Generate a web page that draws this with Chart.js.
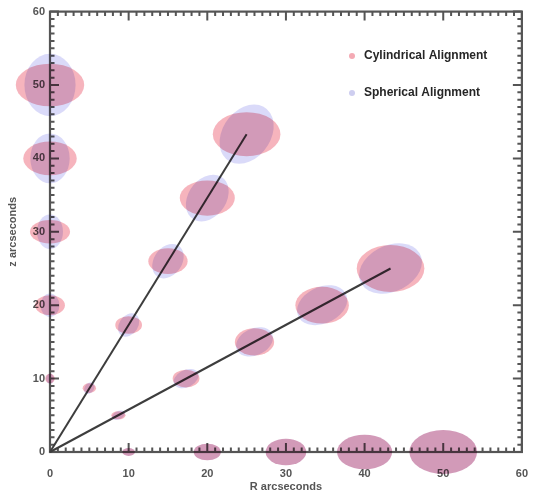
<!DOCTYPE html>
<html>
<head>
<meta charset="utf-8">
<script src="https://cdn.jsdelivr.net/npm/chart.js@4/dist/chart.umd.min.js"></script>
<style>
  html, body { margin: 0; padding: 0; background: #ffffff; }
  #wrap { width: 543px; height: 500px; position: relative; }
</style>
</head>
<body>
<div id="wrap"><canvas id="c"></canvas></div>
<script>
// Source positions (arcseconds): five on the z axis, five on the R axis,
// five along the 60 degree ray and five along the 30 degree ray.
const posR = [0, 0, 0, 0, 0,   10, 20, 30, 40, 50,   5, 10, 15, 20, 25,    8.7, 17.3, 26, 34.6, 43.3];
const posZ = [10, 20, 30, 40, 50,   0, 0, 0, 0, 0,   8.7, 17.3, 26, 34.6, 43.3,   5, 10, 15, 20, 25];

// Cylindrical alignment: semi-axes along R and along z (arcseconds)
const cylSemiR = [0.6, 1.9, 2.55, 3.4, 4.35,   0.8, 1.72, 2.58, 3.5, 4.3,   0.85, 1.7, 2.5, 3.5, 4.3,   0.9, 1.7, 2.5, 3.4, 4.3];
const cylSemiZ = [0.65, 1.35, 1.6, 2.3, 2.9,   0.54, 1.14, 1.82, 2.36, 3.0,  0.65, 1.2, 1.75, 2.4, 3.0,   0.55, 1.2, 1.85, 2.5, 3.2];

// Spherical alignment: semi-axis along the radial direction, across it, and the radial angle (degrees)
const sphRadial = [0.7, 1.6, 2.35, 3.4, 4.25,   0.8, 1.72, 2.58, 3.5, 4.3,   0.85, 1.7, 2.5, 3.4, 4.3,   0.9, 1.7, 2.5, 3.4, 4.25];
const sphAcross = [0.5, 1.2, 1.65, 2.5, 3.25,   0.54, 1.14, 1.82, 2.36, 3.0,  0.6, 1.2, 1.8, 2.45, 3.1,   0.55, 1.15, 1.8, 2.45, 3.1];
const sphAngle  = [90, 90, 90, 90, 90,   0, 0, 0, 0, 0,   60, 60, 60, 60, 60,   30, 30, 30, 30, 30];

// Guide rays from the origin to the outermost sources
const ray60R = [0, 25],   ray60Z = [0, 43.3];
const ray30R = [0, 43.3], ray30Z = [0, 25];

// Axis range and tick spacing
const axisMin = 0, axisMax = 60, majorStep = 10, minorStep = 1;

const toPoints = (xs, ys) => xs.map((x, i) => ({ x: x, y: ys[i] }));

const AXIS_GREY = '#555555';
const PINK = 'rgb(246,180,189)';
const LAVENDER = 'rgb(218,218,249)';
const FONT = "'Liberation Sans', Arial, sans-serif";

// White page behind the plot so the multiply blend works on a solid backdrop
const backgroundPlugin = {
  id: 'paper',
  beforeDraw(chart) {
    const ctx = chart.ctx;
    ctx.save();
    ctx.fillStyle = '#ffffff';
    ctx.fillRect(0, 0, chart.width, chart.height);
    ctx.restore();
  }
};

// Box frame with inward major and minor ticks on all four sides
const framePlugin = {
  id: 'frame',
  beforeDatasetsDraw(chart) {
    const ctx = chart.ctx, xs = chart.scales.x, ys = chart.scales.y;
    const L = xs.getPixelForValue(axisMin), R = xs.getPixelForValue(axisMax);
    const B = ys.getPixelForValue(axisMin), T = ys.getPixelForValue(axisMax);
    ctx.save();
    ctx.strokeStyle = AXIS_GREY;
    ctx.lineWidth = 2;
    ctx.beginPath();
    for (let v = axisMin; v <= axisMax; v += minorStep) {
      const len = (v % majorStep === 0) ? 9 : 4.5;
      const px = xs.getPixelForValue(v), py = ys.getPixelForValue(v);
      ctx.moveTo(px, B); ctx.lineTo(px, B - len);
      ctx.moveTo(px, T); ctx.lineTo(px, T + len);
      ctx.moveTo(L, py); ctx.lineTo(L + len, py);
      ctx.moveTo(R, py); ctx.lineTo(R - len, py);
    }
    ctx.stroke();
    ctx.lineWidth = 2.2;
    ctx.strokeRect(L, T, R - L, B - T);
    ctx.restore();
  }
};

// Each source is drawn as an ellipse sized in arcseconds through the scales
const ellipsePlugin = {
  id: 'ellipses',
  afterDatasetsDraw(chart) {
    const ctx = chart.ctx, xs = chart.scales.x, ys = chart.scales.y;
    const sx = xs.getPixelForValue(1) - xs.getPixelForValue(0);
    const sy = ys.getPixelForValue(0) - ys.getPixelForValue(1);
    chart.data.datasets.forEach((ds, di) => {
      if (!ds.shape) return;
      const meta = chart.getDatasetMeta(di);
      ctx.save();
      ctx.globalCompositeOperation = 'multiply';
      ctx.fillStyle = ds.backgroundColor;
      meta.data.forEach((el, i) => {
        const s = ds.shape[i];
        ctx.save();
        ctx.translate(el.x, el.y);
        ctx.scale(sx, -sy);
        ctx.rotate(s.angle * Math.PI / 180);
        ctx.beginPath();
        ctx.ellipse(0, 0, s.a, s.b, 0, 0, Math.PI * 2);
        ctx.fill();
        ctx.restore();
      });
      ctx.restore();
    });
  }
};

// Legend in the upper right of the plot
const legendPlugin = {
  id: 'cornerLegend',
  afterDraw(chart) {
    const ctx = chart.ctx;
    const items = chart.data.datasets.filter(d => d.shape).slice().reverse();
    ctx.save();
    ctx.font = "bold 12px " + FONT;
    ctx.textBaseline = 'middle';
    items.forEach((ds, i) => {
      const y = 56 + i * 37;
      ctx.fillStyle = ds.legendDot;
      ctx.beginPath();
      ctx.arc(352, y, 3, 0, Math.PI * 2);
      ctx.fill();
      ctx.fillStyle = '#262626';
      ctx.fillText(ds.label, 364, y);
    });
    ctx.restore();
  }
};

const cylShape = cylSemiR.map((a, i) => ({ a: a, b: cylSemiZ[i], angle: 0 }));
const sphShape = sphRadial.map((a, i) => ({ a: a, b: sphAcross[i], angle: sphAngle[i] }));

new Chart(document.getElementById('c'), {
  type: 'scatter',
  data: {
    datasets: [
      {
        type: 'line', label: 'ray60', data: toPoints(ray60R, ray60Z),
        borderColor: '#3d3d3d', borderWidth: 2, pointRadius: 0, fill: false, tension: 0
      },
      {
        type: 'line', label: 'ray30', data: toPoints(ray30R, ray30Z),
        borderColor: '#3d3d3d', borderWidth: 2, pointRadius: 0, fill: false, tension: 0
      },
      {
        label: 'Spherical Alignment', data: toPoints(posR, posZ), shape: sphShape,
        backgroundColor: LAVENDER, legendDot: 'rgb(206,206,240)', pointRadius: 0, pointHoverRadius: 0
      },
      {
        label: 'Cylindrical Alignment', data: toPoints(posR, posZ), shape: cylShape,
        backgroundColor: PINK, legendDot: 'rgb(244,170,180)', pointRadius: 0, pointHoverRadius: 0
      }
    ]
  },
  options: {
    responsive: true,
    maintainAspectRatio: false,
    animation: false,
    events: [],
    clip: false,
    layout: { autoPadding: false, padding: { top: 6, right: 5, bottom: 0, left: 0 } },
    plugins: { legend: { display: false }, tooltip: { enabled: false } },
    scales: {
      x: {
        type: 'linear', min: axisMin, max: axisMax,
        grid: { display: false, drawTicks: false },
        border: { display: false },
        ticks: { stepSize: majorStep, color: '#555555', padding: 15,
                 font: { family: FONT, size: 11, weight: 'bold' } },
        title: { display: true, text: 'R arcseconds', color: '#555555', padding: { top: 0, bottom: 6 },
                 font: { family: FONT, size: 11, weight: 'bold' } },
        afterFit(scale) { scale.height = 48; }
      },
      y: {
        type: 'linear', min: axisMin, max: axisMax,
        grid: { display: false, drawTicks: false },
        border: { display: false },
        ticks: { stepSize: majorStep, color: '#555555', padding: 5,
                 font: { family: FONT, size: 11, weight: 'bold' } },
        title: { display: true, text: 'z arcseconds', color: '#555555', padding: { top: 6, bottom: 0 },
                 font: { family: FONT, size: 11, weight: 'bold' } },
        afterFit(scale) { scale.width = 50; }
      }
    }
  },
  plugins: [backgroundPlugin, framePlugin, ellipsePlugin, legendPlugin]
});
</script>
</body>
</html>
